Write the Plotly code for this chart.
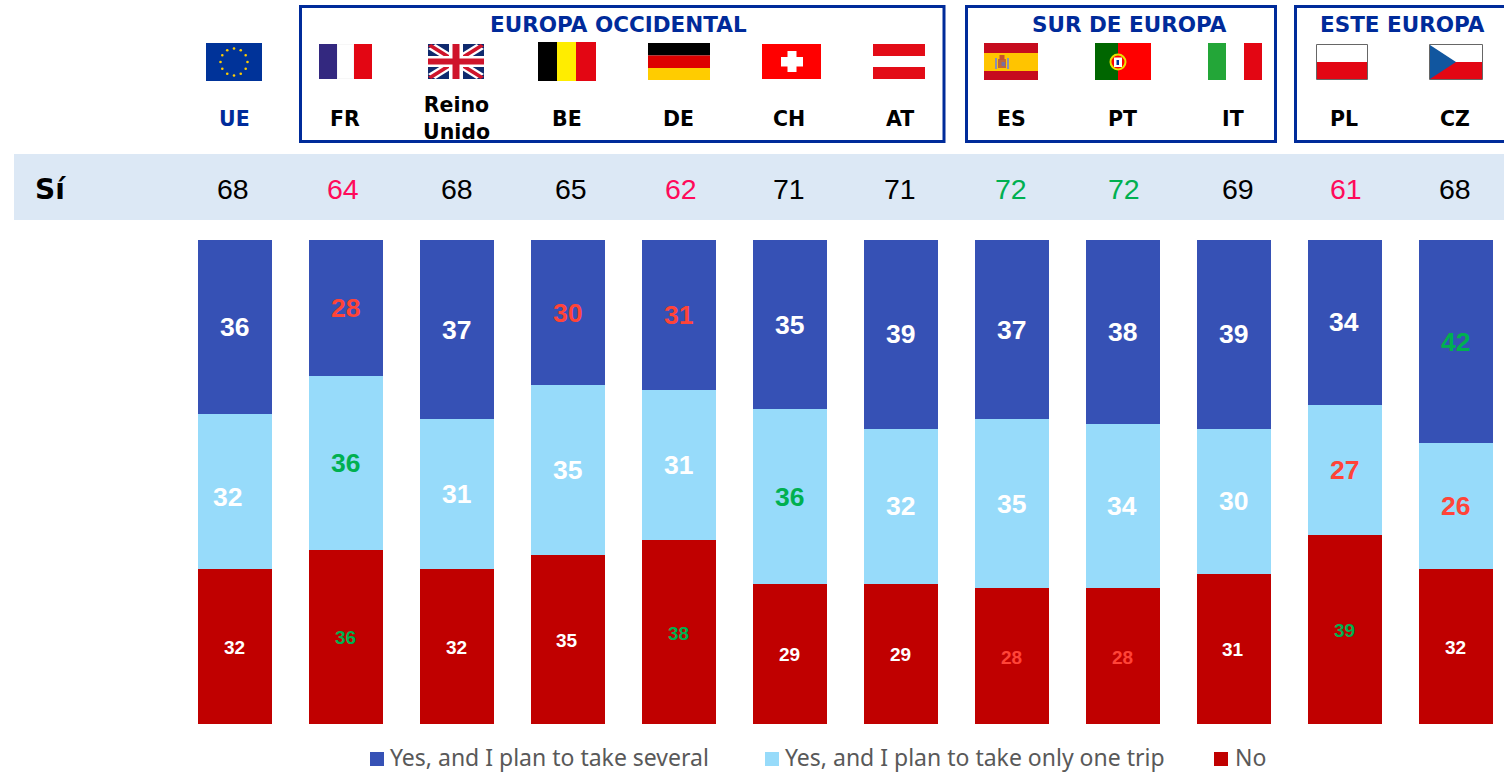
import math
import plotly.graph_objects as go

W, H = 1504, 773

# ---- data ----
countries = ["UE", "FR", "Reino Unido", "BE", "DE", "CH", "AT", "ES", "PT", "IT", "PL", "CZ"]
series_names = ["Yes, and I plan to take several", "Yes, and I plan to take only one trip", "No"]
several = [36, 28, 37, 30, 31, 35, 39, 37, 38, 39, 34, 42]
one_trip = [32, 36, 31, 35, 31, 36, 32, 35, 34, 30, 27, 26]
no = [32, 36, 32, 35, 38, 29, 29, 28, 28, 31, 39, 32]
si_values = [68, 64, 68, 65, 62, 71, 71, 72, 72, 69, 61, 68]

# ---- styles ----
C_SEVERAL, C_ONE, C_NO = "#3651B5", "#97DBFA", "#C00000"
NAVY = "#002B9A"
W_ = "#FFFFFF"; R_ = "#FF4438"; G_ = "#00B050"; K_ = "#000000"; P_ = "#FF0A5A"
several_colors = [W_, R_, W_, R_, R_, W_, W_, W_, W_, W_, W_, G_]
one_colors = [W_, G_, W_, W_, W_, G_, W_, W_, W_, W_, R_, R_]
no_colors = [W_, G_, W_, W_, G_, W_, W_, R_, R_, W_, G_, W_]
si_colors = [K_, P_, K_, K_, P_, K_, K_, G_, G_, K_, P_, K_]
si_x_px = [232.5, 342.5, 456.5, 570.5, 680.5, 788.5, 899.5, 1010.5, 1123.5, 1237.5, 1345.5, 1454.5]

FONT = "Liberation Sans"
HEAD = "DejaVu Sans"

# ---- pixel helpers (decoration only) ----
def px(x): return x / W
def py(y): return 1 - y / H
X0, DX = 235.0, 111.0
Y0, DY = 724.0, 4.84
x_range = [(0 - X0) / DX, (W - X0) / DX]
y_range = [(Y0 - H) / DY, Y0 / DY]

shapes, ann = [], []

def rect(x0, y0, x1, y1, fill, line=None, lw=0, layer="below"):
    shapes.append(dict(type="rect", xref="paper", yref="paper", x0=px(x0), x1=px(x1), y0=py(y0), y1=py(y1),
                       fillcolor=fill, line=dict(color=line or fill, width=lw), layer=layer))

def poly(points, fill):
    d = "M" + "L".join(f"{px(a):.5f},{py(b):.5f}" for a, b in points) + "Z"
    shapes.append(dict(type="path", xref="paper", yref="paper", path=d, fillcolor=fill, line=dict(width=0), layer="below"))

def circle(cx, cy, r, fill, line=None, lw=0):
    shapes.append(dict(type="circle", xref="paper", yref="paper", x0=px(cx - r), x1=px(cx + r), y0=py(cy + r), y1=py(cy - r),
                       fillcolor=fill, line=dict(color=line or fill, width=lw), layer="below"))

def text(x, y, s, size, color, bold=False, family=FONT, anchor="center"):
    ann.append(dict(xref="paper", yref="paper", x=px(x), y=py(y), text=f"<b>{s}</b>" if bold else s, showarrow=False,
                    xanchor=anchor, yanchor="middle", font=dict(family=family, size=size, color=color)))

# Sí band
rect(14, 154, W + 2, 220, "#DCE8F5")
text(51, 189, "Sí", 28, K_, bold=True, family=HEAD)
for xp, v, c in zip(si_x_px, si_values, si_colors):
    text(xp, 189, str(v), 28.5, c)

# group boxes
for x0, x1, label, lx in [(300.5, 944, "EUROPA OCCIDENTAL", 618.5), (966.5, 1275.5, "SUR DE EUROPA", 1129), (1295.5, W + 6, "ESTE EUROPA", 1402)]:
    shapes.append(dict(type="rect", xref="paper", yref="paper", x0=px(x0), x1=px(x1), y0=py(6.5), y1=py(141.5),
                       fillcolor="rgba(0,0,0,0)", line=dict(color=NAVY, width=3), layer="below"))
    text(lx, 25, label, 21.5, NAVY, bold=True, family=HEAD)

# country labels (on the category axis)
for i, c in enumerate(countries):
    ann.append(dict(xref="x", yref="paper", x=c, y=py(118.5), text="<b>" + c.replace(" ", "<br>") + "</b>", showarrow=False,
                    xanchor="center", yanchor="middle", xshift=-1,
                    font=dict(family=HEAD, size=20.5, color=NAVY if c == "UE" else K_)))

# flags
rect(206, 43, 262, 81, "#003399")
for k in range(12):
    a = math.radians(30 * k)
    circle(234 + 13.5 * math.sin(a), 62 - 13.5 * math.cos(a), 1.3, "#FFCC00")
# FR
rect(319, 44, 337, 79, "#33287F"); rect(337, 44, 354, 79, "#F7F7F7"); rect(338, 45, 353, 78, "#FFFFFF"); rect(354, 44, 372, 79, "#E30613")
# UK
ux0, ux1, uy0, uy1 = 428, 484, 44, 79
rect(ux0, uy0, ux1, uy1, "#0F2A6E")
def diag(w, col):
    for (a, b, c_, d_) in [(ux0, uy0, ux1, uy1), (ux0, uy1, ux1, uy0)]:
        dy = w if d_ > b else -w
        poly([(a, b + dy), (a + w * 1.5, b), (c_, d_ - dy), (c_ - w * 1.5, d_)], col)
diag(5, "#FFFFFF")
diag(2.2, "#CF142B")
rect(ux0, 56, ux1, 67, "#FFFFFF"); rect(449, uy0, 463, uy1, "#FFFFFF")
rect(ux0, 58.5, ux1, 64.5, "#CF142B"); rect(452.5, uy0, 459.5, uy1, "#CF142B")
# BE
rect(538, 42, 557, 81, "#000000"); rect(557, 42, 576, 81, "#FFED00"); rect(576, 42, 596, 81, "#E30613")
# DE
rect(648, 43, 710, 55.5, "#000000"); rect(648, 55.5, 710, 68, "#DD0000"); rect(648, 68, 710, 80, "#FFCC00")
# CH
rect(762, 44, 821, 79, "#FF0000"); rect(781, 57, 803, 66.5, "#FFFFFF"); rect(787.5, 51, 796.5, 72, "#FFFFFF")
# AT
rect(873, 44, 925, 56, "#E30C17"); rect(873, 56, 925, 67, "#FFFFFF"); rect(873, 67, 925, 79, "#E30C17")
# ES
rect(984, 43, 1038, 53, "#C60B1E"); rect(984, 53, 1038, 71, "#FFC400"); rect(984, 71, 1038, 80, "#C60B1E")
rect(995, 58, 997, 69, "#8A8FB5"); rect(1007, 58, 1009, 69, "#8A8FB5")
rect(998, 59, 1006, 68, "#C0673A"); rect(999.5, 55, 1004.5, 60, "#C8502E"); rect(1001.5, 62, 1005, 66, "#7A6FA0")
# PT
rect(1095, 43, 1118, 80, "#006600"); rect(1118, 43, 1151, 80, "#FF0000")
circle(1118, 62, 7.5, "#FF0000", line="#E8E000", lw=2); rect(1114, 57.5, 1122, 67, "#FFFFFF"); rect(1116.5, 60, 1119, 65, "#003399")
# IT
rect(1208, 43, 1226, 80, "#23A638"); rect(1226, 43, 1244, 80, "#FFFFFF"); rect(1244, 43, 1262, 80, "#E30613")
# PL
rect(1316.5, 44.5, 1367.5, 79.5, "#FFFFFF", line="#666666", lw=1); rect(1317, 62, 1367, 79, "#E30613")
# CZ
rect(1429.5, 44.5, 1482.5, 79.5, "#FFFFFF", line="#666666", lw=1); rect(1430, 62, 1482, 79, "#E30613")
poly([(1430, 45), (1456, 62), (1430, 79)], "#11569F")

# bar value labels
for i, c in enumerate(countries):
    base_one = no[i]; base_sev = no[i] + one_trip[i]
    ann.append(dict(x=c, y=no[i] / 2, text=f"<b>{no[i]}</b>", showarrow=False, yshift=-1, xshift=-1,
                    font=dict(family=FONT, size=19, color=no_colors[i])))
    ann.append(dict(x=c, y=base_one + one_trip[i] / 2, text=f"<b>{one_trip[i]}</b>", showarrow=False,
                    xshift=-8 if c == "UE" else -1, yshift=-5 if c == "UE" else 0,
                    font=dict(family=FONT, size=26.5, color=one_colors[i])))
    ann.append(dict(x=c, y=base_sev + several[i] / 2, text=f"<b>{several[i]}</b>", showarrow=False, xshift=-1,
                    font=dict(family=FONT, size=26.5, color=several_colors[i])))

# legend
for (x0, tx, name, col) in [(370, 388, series_names[0], C_SEVERAL), (765, 783, series_names[1], C_ONE), (1214, 1233, series_names[2], C_NO)]:
    rect(x0, 752, x0 + 14, 766, col)
    text(tx, 757, name, 23, "#595959", family="Noto Sans", anchor="left")

fig = go.Figure()
for vals, col, nm in [(no, C_NO, series_names[2]), (one_trip, C_ONE, series_names[1]), (several, C_SEVERAL, series_names[0])]:
    fig.add_trace(go.Bar(x=countries, y=vals, name=nm, marker=dict(color=col, line=dict(width=0)), width=0.667))

fig.update_layout(
    width=W, height=H, margin=dict(l=0, r=0, t=0, b=0), barmode="stack", showlegend=False,
    paper_bgcolor="white", plot_bgcolor="rgba(0,0,0,0)", shapes=shapes, annotations=ann,
    xaxis=dict(type="category", categoryorder="array", categoryarray=countries, range=x_range, visible=False, fixedrange=True),
    yaxis=dict(range=y_range, visible=False, fixedrange=True),
)
fig.write_html("out.html", config=dict(displayModeBar=False),
               post_script="document.body.style.margin='0';document.body.style.overflow='hidden';")
